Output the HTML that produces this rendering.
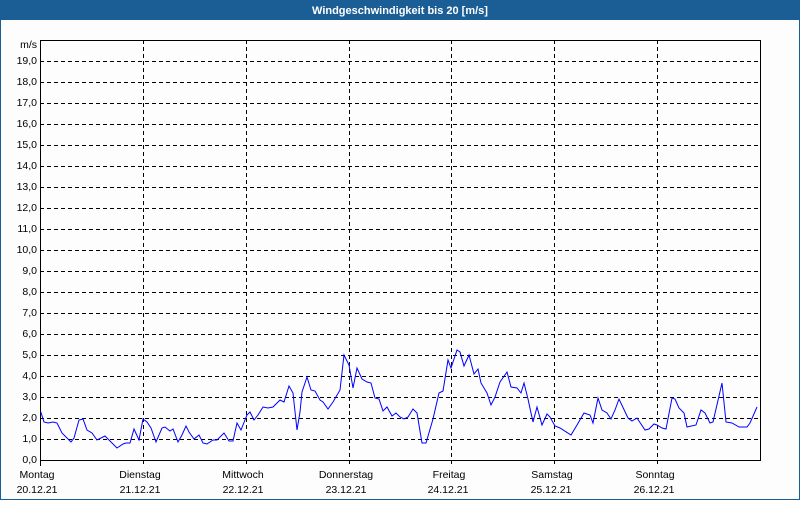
<!DOCTYPE html>
<html><head><meta charset="utf-8"><style>
body{margin:0;width:800px;height:500px;overflow:hidden;background:#fff;font-family:"Liberation Sans",sans-serif}
</style></head><body>
<svg width="800" height="500" xmlns="http://www.w3.org/2000/svg" font-family="Liberation Sans, sans-serif" font-size="10.5">
<rect x="0" y="0" width="800" height="500" fill="#1b5e96"/>
<rect x="1" y="20" width="798" height="479" fill="#fdfdfd"/>
<text x="400" y="14" fill="#fff" font-weight="bold" text-anchor="middle" font-size="11">Windgeschwindigkeit bis 20 [m/s]</text>
<g stroke="#000" stroke-dasharray="4,3" stroke-width="1">
<path d="M40 439.5H760M40 418.5H760M40 397.5H760M40 376.5H760M40 355.5H760M40 334.5H760M40 313.5H760M40 292.5H760M40 271.5H760M40 250.5H760M40 229.5H760M40 208.5H760M40 187.5H760M40 166.5H760M40 145.5H760M40 124.5H760M40 103.5H760M40 82.5H760M40 61.5H760"/>
<path d="M143.5 40V466M246.5 40V466M349.5 40V466M451.5 40V466M554.5 40V466M657.5 40V466"/>
</g>
<path d="M40.5 466V460.5H760.5V40.5H40.5V460" fill="none" stroke="#000"/>
<g text-anchor="end" fill="#000">
<text x="37" y="48">m/s</text>
<text x="37" y="64">19,0</text><text x="37" y="85">18,0</text><text x="37" y="106">17,0</text><text x="37" y="127">16,0</text><text x="37" y="148">15,0</text><text x="37" y="169">14,0</text><text x="37" y="190">13,0</text><text x="37" y="211">12,0</text><text x="37" y="232">11,0</text><text x="37" y="253">10,0</text><text x="37" y="274">9,0</text><text x="37" y="295">8,0</text><text x="37" y="316">7,0</text><text x="37" y="337">6,0</text><text x="37" y="358">5,0</text><text x="37" y="379">4,0</text><text x="37" y="400">3,0</text><text x="37" y="421">2,0</text><text x="37" y="442">1,0</text><text x="37" y="463">0,0</text>
</g>
<g text-anchor="middle" fill="#000">
<text x="37" y="478">Montag</text><text x="37" y="493">20.12.21</text>
<text x="140" y="478">Dienstag</text><text x="140" y="493">21.12.21</text>
<text x="243" y="478">Mittwoch</text><text x="243" y="493">22.12.21</text>
<text x="346" y="478">Donnerstag</text><text x="346" y="493">23.12.21</text>
<text x="449" y="478">Freitag</text><text x="448" y="493">24.12.21</text>
<text x="552" y="478">Samstag</text><text x="551" y="493">25.12.21</text>
<text x="655" y="478">Sonntag</text><text x="654" y="493">26.12.21</text>
</g>
<polyline fill="none" stroke="#0000ff" stroke-width="1" points="40.7,411.7 44,422 48,423 53,422 57,423 62,433 67,438 71,442 74,438 79,420 83,419 87,430 92,433 97,440 101,438 105,436 110,441 117,448 123,444 126,443 130,443 134,429 139,440 143,419 147,422 151,428 156,442 162,428 165,427 170,431 173,429 178,442 182,435 186,426 189,432 194,439 199,435 203,443 207,444 213,440 217,440 224,433 229,441 233,441 237,423 241,430 247,415 250,412 254,420 258,415 263,407 268,408 273,407 280,400 284,402 289,386 293,393 297,430 300,412 302,392 307,377 311,390 315,391 320,400 323,402 328,409 333,402 340,390 344,355 349,365 353,388 357,368 362,379 367,382 371,383 375,398 379,399 383,411 387,407 392,416 396,413 400,417 404,419 408,417 413,409 417,413 422,443 426,443 433,419 439,393 443,391 448,360 451,368 457,350 460,352 464,366 469,355 474,374 478,369 481,383 487,393 491,405 495,397 500,382 507,372 511,387 517,388 521,393 524,383 528,399 531,413 533,422 537,407 542,425 547,414 550,417 555,426 560,428 571,435 577,425 584,413 590,415 593,423 598,398 602,410 607,413 611,419 615,410 619,399 628,418 632,421 637,418 645,430 649,429 654,424 657,425 662,428 666,429 672,398 675,399 679,408 684,413 687,427 696,425 701,410 705,413 710,423 713,422 722,383 726,422 732,423 739,427 747,427 750,423 757,407"/>
</svg>
</body></html>
